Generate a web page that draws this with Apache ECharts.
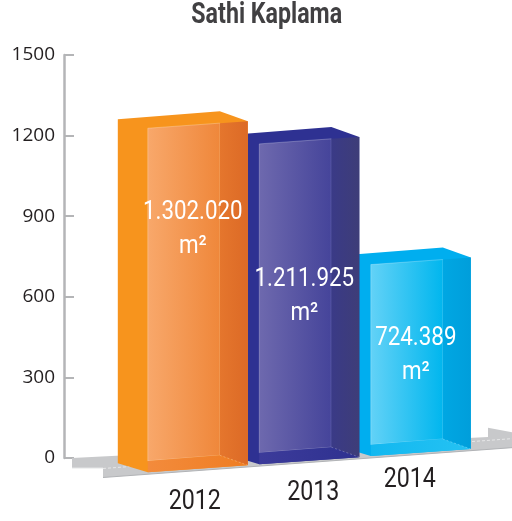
<!DOCTYPE html>
<html>
<head>
<meta charset="utf-8">
<script src="https://cdn.jsdelivr.net/npm/echarts@6/dist/echarts.min.js"></script>
<style>
  html, body { margin: 0; padding: 0; background: #ffffff; }
  #chart { width: 512px; height: 521px; }
</style>
</head>
<body>
<div id="chart"></div>
<script>
// Covered area per year (thousand m², shown with Turkish thousands separators)
const years = ['2012', '2013', '2014'];
const areaValues = [1302.020, 1211.925, 724.389];
const areaLabels = ['1.302.020', '1.211.925', '724.389'];
const yTicks = [0, 300, 600, 900, 1200, 1500];

// Face colours of each glass box: [left/top, panel light, panel dark, side top, side bottom, floor light, floor dark]
const palettes = [
  ['#f7941d', '#f8a86b', '#ef873a', '#e5762d', '#dc6a26', '#f38b3c', '#ef7d22'],
  ['#2e3192', '#6e69ae', '#45449a', '#3a3a87', '#3e3d78', '#3c3b9a', '#2e3190'],
  ['#00aeef', '#63d2f7', '#00b6ee', '#00a7e3', '#009edb', '#12b8f0', '#25c2f3']
];
// Label placement inside each box (fraction of box height) and year label offsets
const labelLift = [0.755, 0.578, 0.616];
const yearShiftX = [47, 54, 39];
const yearShiftY = [30, 29, 24];

const FONT = 'Roboto, "Noto Sans", sans-serif';
const NARROW_X = 0.86;     // horizontal squeeze giving a condensed face
const SLOPE = -0.073;      // perspective tilt of the floor
const FRONT_W = 100, DEPTH_X = 30, DEPTH_Y = 9, SIDE_DY = 7;

const chart = echarts.init(document.getElementById('chart'), null, { renderer: 'canvas' });

function lerpY(p, q, x) { return p[1] + (q[1] - p[1]) * (x - p[0]) / (q[0] - p[0]); }

function condensedText(text, x, y, size, fill, z2) {
  return {
    type: 'text', x: x, y: y, scaleX: NARROW_X, z2: z2,
    style: { text: text, x: 0, y: 0, fill: fill, font: size + 'px ' + FONT,
             align: 'center', verticalAlign: 'middle' }
  };
}

function renderBox(params, api) {
  const i = api.value(0);
  const v = api.value(1);
  const cs = params.coordSys;
  const base = api.coord([i, 0]);
  const top = api.coord([i, v]);
  const h = base[1] - top[1];
  const x0 = base[0] - FRONT_W / 2;
  const y0 = base[1] + 20.4 + SLOPE * (x0 - cs.x);
  const pal = palettes[i];

  const FLb = [x0, y0], FRb = [x0 + FRONT_W, y0 - SIDE_DY];
  const BLb = [x0 - DEPTH_X, y0 - DEPTH_Y], BRb = [x0 + FRONT_W - 28, y0 - DEPTH_Y - 8];
  const up = p => [p[0], p[1] - h];
  const FLt = up(FLb), FRt = up(FRb), BLt = up(BLb), BRt = up(BRb);
  const xr = BRb[0];
  const panelTopR = [xr, lerpY(FLt, FRt, xr)];
  const panelBotL = [x0, lerpY(BLb, BRb, x0)];

  const zb = 40 - i * 10;
  const lg = (c1, c2) => new echarts.graphic.LinearGradient(0, 0, 1, 0, [
    { offset: 0, color: c1 }, { offset: 1, color: c2 }
  ]);
  const children = [
    { type: 'polygon', z2: zb, shape: { points: [BLb, BLt, BRt, FRt, FRb, FLb] },
      style: { fill: pal[0] } },
    { type: 'polygon', z2: zb + 1, shape: { points: [FLt, panelTopR, BRb, panelBotL] },
      style: { fill: lg(pal[1], pal[2]), stroke: 'rgba(255,255,255,0.25)', lineWidth: 1 } },
    { type: 'polygon', z2: zb + 1, shape: { points: [panelTopR, FRt, FRb, BRb] },
      style: { fill: lg(pal[3], pal[4]) } },
    { type: 'polygon', z2: zb + 1, shape: { points: [panelBotL, BRb, FRb, FLb] },
      style: { fill: lg(pal[5], pal[6]) } },
    { type: 'line', z2: zb + 2, shape: { x1: BRb[0], y1: BRb[1], x2: FRb[0], y2: FRb[1] },
      style: { stroke: 'rgba(255,255,255,0.25)', lineWidth: 1, lineDash: [2, 2] } }
  ];

  const lx = x0 + 45;
  const ly = y0 - h * labelLift[i];
  children.push(condensedText(areaLabels[i], lx, ly, 26, '#ffffff', 100));
  children.push(condensedText('m²', lx, ly + 34, 26, '#ffffff', 100));
  children.push(condensedText(years[i], x0 + yearShiftX[i], y0 + yearShiftY[i], 27, '#231f20', 100));
  return { type: 'group', children: children };
}

// Grey slab the boxes stand on, with a raised flange at its far right end
function renderFloor(params, api) {
  const cs = params.coordSys;
  const B = cs.y + cs.height;
  const L = cs.x;
  const X = dx => L + dx;
  const Y = (y, dx) => y + SLOPE * dx;
  const right = 512 - L;
  return {
    type: 'group',
    children: [
      { type: 'polygon', z2: 1, shape: { points: [
          [X(8), B], [X(424), B - 21], [X(424), Y(B, 416)], [X(right), Y(B, 416) + 4.5],
          [X(right), Y(B + 19.5, right - 39)], [X(39), B + 19.5], [X(39), B + 10], [X(8), B + 10]
        ] }, style: { fill: '#c8c9cb' } },
      { type: 'line', z2: 2, shape: { x1: X(39), y1: B + 10.5, x2: X(right), y2: Y(B + 10.5, right - 39) },
        style: { stroke: 'rgba(255,255,255,0.55)', lineWidth: 1, lineDash: [3, 2] } },
      { type: 'line', z2: 2, shape: { x1: X(39), y1: B + 19.5, x2: X(right), y2: Y(B + 19.5, right - 39) },
        style: { stroke: '#b1b3b6', lineWidth: 1 } },
      { type: 'line', z2: 2, shape: { x1: X(8), y1: B + 10, x2: X(39), y2: B + 10 },
        style: { stroke: '#e4e5e6', lineWidth: 1 } }
    ]
  };
}

chart.setOption({
  animation: false,
  backgroundColor: '#ffffff',
  graphic: [{
    type: 'text', x: 266.7, y: 16, scaleX: 0.8,
    style: { text: 'Sathi Kaplama', x: 0, y: 0, font: 'bold 29px ' + FONT, fill: '#414042',
             align: 'center', verticalAlign: 'middle' }
  }],
  grid: { left: 64, top: 55, bottom: 63, right: 35.45 },
  xAxis: { type: 'value', min: -1.2, max: 2.5, show: false },
  yAxis: [
    {
      type: 'value', min: yTicks[0], max: yTicks[yTicks.length - 1], interval: 300,
      axisLine: { show: true, onZero: false, lineStyle: { color: '#b4b5b7', width: 2.5 } },
      axisTick: { show: true, inside: true, length: 10, lineStyle: { color: '#b4b5b7', width: 2 } },
      splitLine: { show: false },
      axisLabel: { color: '#231f20', fontSize: 19, fontFamily: '"Open Sans", sans-serif', margin: 9,
                   formatter: v => String(v) }
    },
    { type: 'value', min: 0, max: 1525, show: false }
  ],
  series: [
    { type: 'custom', name: 'floor', xAxisIndex: 0, yAxisIndex: 0, silent: true,
      data: [[0, 0]], renderItem: renderFloor, z: 1 },
    { type: 'custom', name: 'Sathi Kaplama', xAxisIndex: 0, yAxisIndex: 1,
      data: areaValues.map((v, i) => [i, v]), renderItem: renderBox, z: 2 }
  ]
});
</script>
</body>
</html>
